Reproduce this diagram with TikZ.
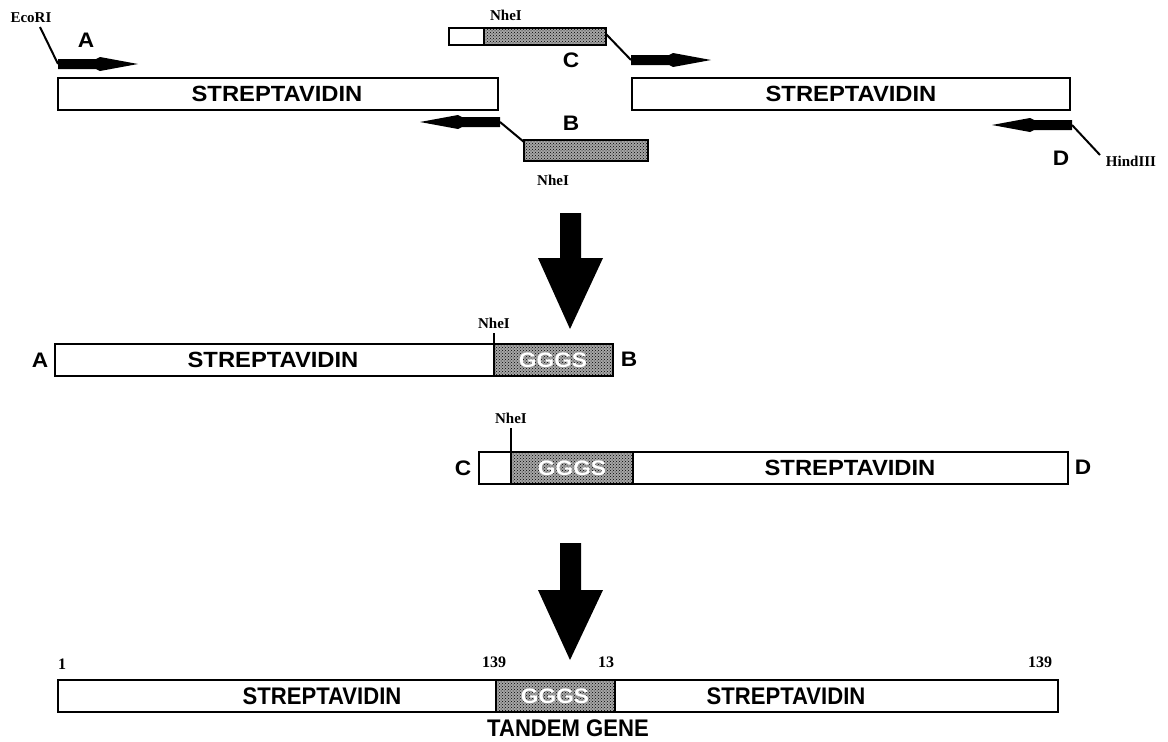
\documentclass[tikz,border=0pt]{standalone}
\usepackage{fontspec}
\setmainfont{Liberation Serif}
\newfontfamily\lab[FakeStretch=1.08]{Liberation Sans}
\newfontfamily\labn[FakeStretch=0.92]{Liberation Sans}
\usetikzlibrary{patterns}
\tikzset{
  gene/.style={draw=black, line width=1.8pt, fill=white},
  linker/.style={draw=black, line width=1.8pt, fill=gray!70, postaction={pattern=crosshatch dots, pattern color=black}},
  genetext/.style={font=\lab\bfseries\fontsize{22}{22}\selectfont, inner sep=0pt},
  geneNtext/.style={font=\labn\bfseries\fontsize{24}{24}\selectfont, inner sep=0pt},
  linktext/.style={font=\lab\bfseries\fontsize{21}{21}\selectfont, text=white, inner sep=0pt},
  letter/.style={font=\lab\bfseries\fontsize{21}{21}\selectfont, inner sep=0pt},
  site/.style={font=\bfseries\fontsize{15}{15}\selectfont, inner sep=0pt},
  num/.style={font=\bfseries\fontsize{16}{16}\selectfont, inner sep=0pt},
  tick/.style={draw=black, line width=1.3pt},
  lead/.style={draw=black, line width=2pt},
  primer/.pic={\fill[black] (0,-5) -- (38,-5) -- (42,-7) -- (80,0) -- (42,7) -- (38,5) -- (0,5) -- cycle;},
  bigarrow/.style={fill=black}
}
\begin{document}
\begin{tikzpicture}[x=1pt,y=-1pt]
\useasboundingbox (0,0) rectangle (1168,742);

% ---------- Row 1 ----------
\draw[gene] (58,78) rectangle (498,110);
\node[genetext] (s1) at (277,94) {STREPTAVIDIN};
\draw[gene] (632,78) rectangle (1070,110);
\node[genetext] (s2) at (851,94) {STREPTAVIDIN};

% primer A
\node[site] (ecori) at (31,18) {EcoRI};
\coordinate (pa) at (58,64);
\pic at (pa) {primer};
\draw[lead] (40,27) -- (pa);
\node[letter] (la) at (86,40) {A};

% primer C
\draw[linker] (484,28) rectangle (606,45);
\draw[gene] (449,28) rectangle (484,45);
\draw[draw=black, line width=1.8pt] (449,28) rectangle (606,45);
\node[site] (nhec) at (506,15) {NheI};
\coordinate (cend) at (606,34);
\coordinate (pc) at (631,60);
\draw[lead] (cend) -- (pc);
\pic at (pc) {primer};
\node[letter] (lc) at (571,60) {C};

% primer B
\draw[linker] (524,140) rectangle (648,161);
\node[site] (nheb) at (553,180) {NheI};
\coordinate (bstart) at (524,142);
\coordinate (pb) at (500,122);
\draw[lead] (bstart) -- (pb);
\pic[xscale=-1] at (pb) {primer};
\node[letter] (lb) at (571,123) {B};

% primer D
\coordinate (pd) at (1072,125);
\pic[xscale=-1] at (pd) {primer};
\node[site] (hind) at (1131,161) {HindIII};
\draw[lead] (pd) -- (1100,155);
\node[letter] (ld) at (1061,158) {D};

% ---------- Big arrow 1 ----------
\fill[bigarrow] (560,213) -- (581,213) -- (581,258) -- (603,258) -- (570,329) -- (538,258) -- (560,258) -- cycle;

% ---------- Row 2 ----------
\draw[gene] (55,344) rectangle (613,376);
\draw[linker] (494,344) rectangle (613,376);
\node[genetext] (s3) at (273,360) {STREPTAVIDIN};
\node[linktext] (g1) at (553,360) {GGGS};
\node[letter] (l2a) at (40,360) {A};
\node[letter] (l2b) at (629,359) {B};
\node[site] (nhe2) at (494,323) {NheI};
\draw[tick] (494,333) -- (494,344);

% ---------- Row 3 ----------
\draw[gene] (479,452) rectangle (1068,484);
\draw[linker] (511,452) rectangle (633,484);
\draw[draw=black, line width=1.8pt] (479,452) rectangle (1068,484);
\node[genetext] (s4) at (850,468) {STREPTAVIDIN};
\node[linktext] (g2) at (572,468) {GGGS};
\node[letter] (l3c) at (463,468) {C};
\node[letter] (l3d) at (1083,467) {D};
\node[site] (nhe3) at (511,418) {NheI};
\draw[tick] (511,428) -- (511,452);

% ---------- Big arrow 2 ----------
\fill[bigarrow] (560,543) -- (581,543) -- (581,590) -- (603,590) -- (570,660) -- (538,590) -- (560,590) -- cycle;

% ---------- Row 4 ----------
\draw[gene] (58,680) rectangle (1058,712);
\draw[linker] (496,680) rectangle (615,712);
\draw[draw=black, line width=1.8pt] (58,680) rectangle (1058,712);
\node[geneNtext] (s5) at (322,696) {STREPTAVIDIN};
\node[geneNtext] (s6) at (786,696) {STREPTAVIDIN};
\node[linktext] (g3) at (555,696) {GGGS};
\node[num] (n1) at (62,664) {1};
\node[num] (n2) at (494,662) {139};
\node[num] (n3) at (606,662) {13};
\node[num] (n4) at (1040,662) {139};
\node[geneNtext] (tg) at (568,728) {TANDEM GENE};
\end{tikzpicture}
\end{document}
